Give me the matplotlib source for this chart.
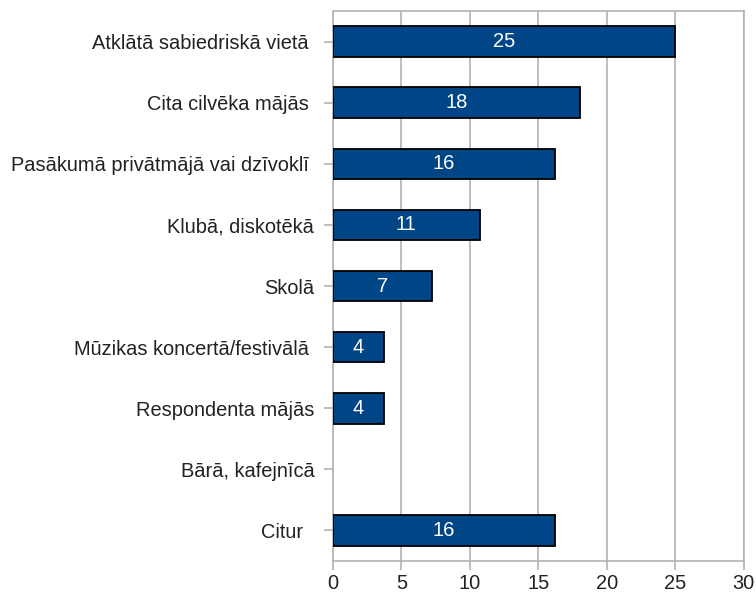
import numpy as np
import matplotlib.pyplot as plt

# categories top to bottom and their values (labels are rounded)
categories = [
    "Atklātā sabiedriskā vietā ",
    "Cita cilvēka mājās ",
    "Pasākumā privātmājā vai dzīvoklī ",
    "Klubā, diskotēkā",
    "Skolā",
    "Mūzikas koncertā/festivālā ",
    "Respondenta mājās",
    "Bārā, kafejnīcā",
    "Citur  ",
]
values = [25.0, 18.0, 16.2, 10.7, 7.2, 3.7, 3.7, 0.0, 16.2]
xticks = [0, 5, 10, 15, 20, 25, 30]

plt.rcParams['font.family'] = ['Liberation Sans', 'DejaVu Sans']
grey = '#b3b3b3'

fig = plt.figure(figsize=(7.56, 5.95), dpi=100)
ax = fig.add_axes([0.4405, 0.0571, 0.984 - 0.4405, 0.9815 - 0.0571])

y = np.arange(len(categories))
edge_w = [1.3 if v > 0 else 0 for v in values]
bars = ax.barh(y, values, height=0.5, color='#004586', edgecolor='black',
               linewidth=edge_w, zorder=3)

for b, v in zip(bars, values):
    if v > 0:
        ax.text(b.get_width() / 2, b.get_y() + b.get_height() / 2, f"{v:.0f}",
                ha='center', va='center', color='white', fontsize=14.5, zorder=4)

ax.set_xlim(0, 30)
ax.set_ylim(len(categories) - 0.5, -0.5)
ax.set_xticks(xticks)
ax.set_yticks(y)
ax.set_yticklabels(categories)

ax.grid(axis='x', color=grey, linewidth=1.2, zorder=0)
for s in ax.spines.values():
    s.set_color(grey)
    s.set_linewidth(1.2)
ax.tick_params(axis='both', colors=grey, labelcolor='#222222', labelsize=14.4,
               length=6.5, width=1.2)
ax.tick_params(axis='y', pad=7)
ax.tick_params(axis='x', pad=3)

fig.savefig('out.png', dpi=100)
